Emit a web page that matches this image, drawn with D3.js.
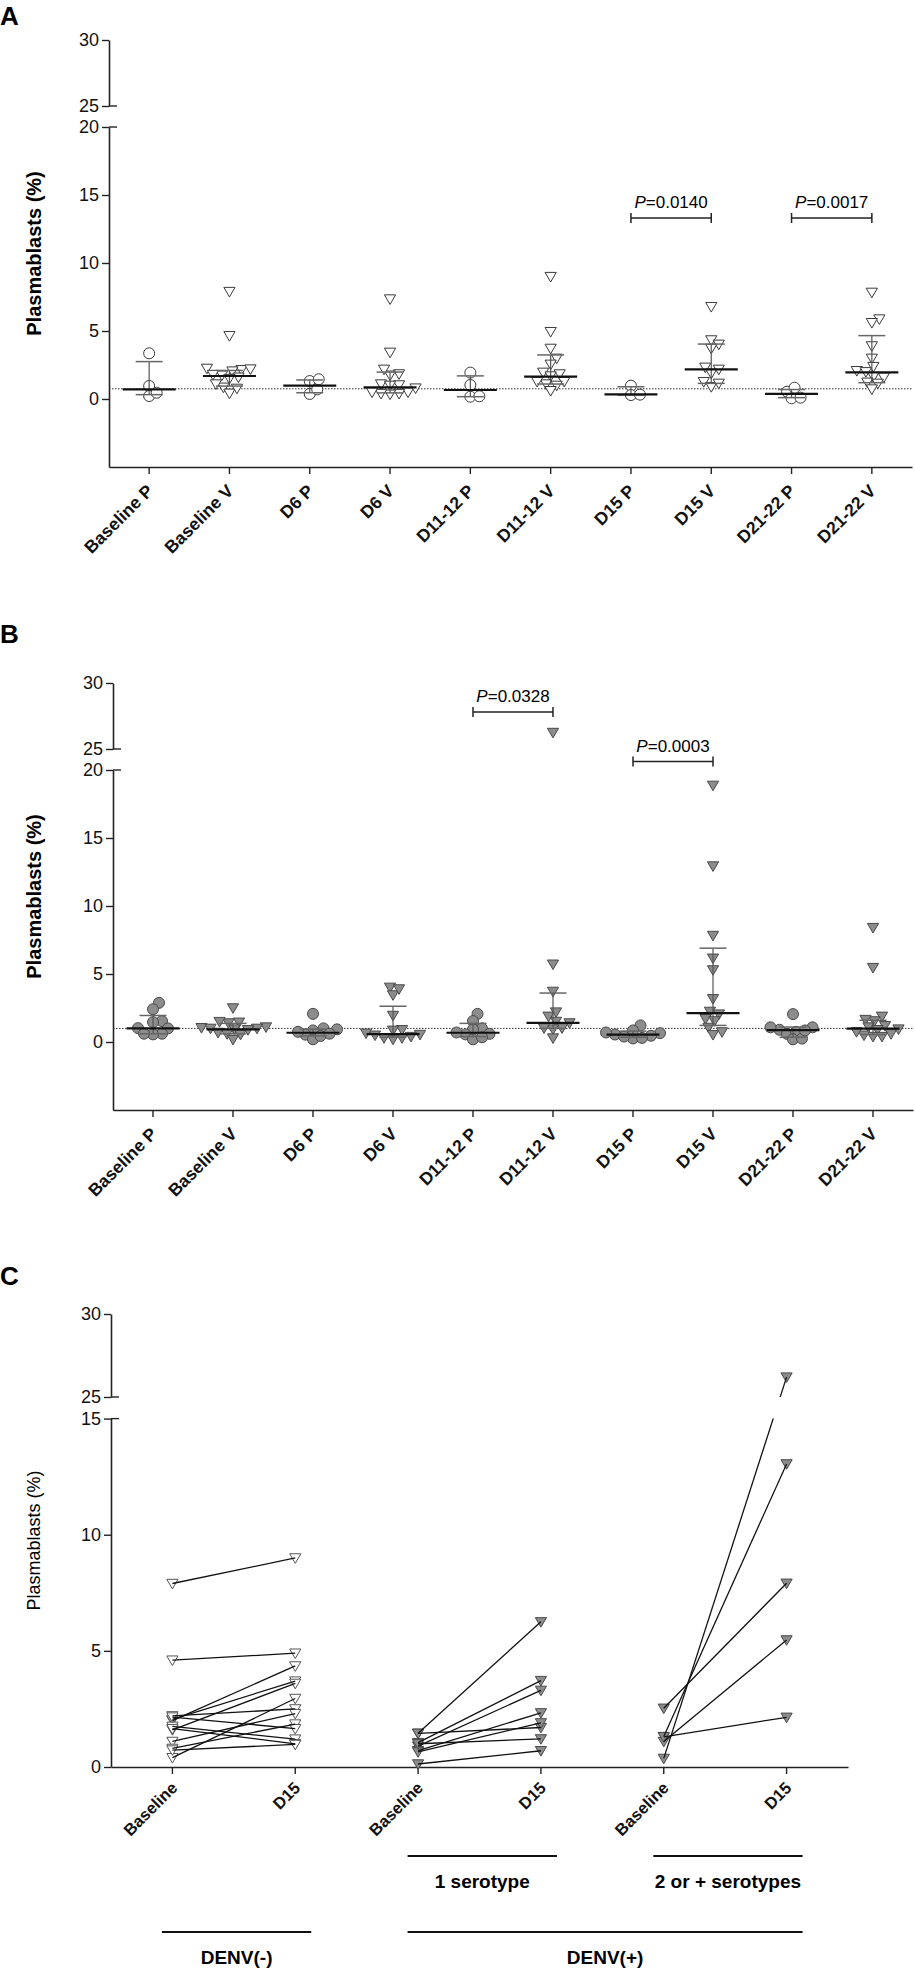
<!DOCTYPE html>
<html>
<head>
<meta charset="utf-8">
<script src="https://cdn.jsdelivr.net/npm/d3@7"></script>
<style>
  body { margin: 0; background: #fff; }
  svg { display: block; font-family: "Liberation Sans", Arial, sans-serif; }
</style>
</head>
<body>
<svg id="fig" width="915" height="1972"></svg>
<script>
// Categories
const groupsAB = ["Baseline P", "Baseline V", "D6 P", "D6 V", "D11-12 P", "D11-12 V", "D15 P", "D15 V", "D21-22 P", "D21-22 V"];
const yTicksLow = [0, 5, 10, 15, 20];
const yTicksHigh = [25, 30];
const yTicksLowC = [0, 5, 10, 15];

// Panel A - plasmablasts (%) per subject
const pointsA = [
  [3.36, 0.96, 0.22, 0.46],
  [7.9, 4.65, 2.15, 2.05, 2.2, 2.25, 1.75, 1.6, 1.8, 1.5, 0.86, 0.42, 0.78, 1.1],
  [1.32, 0.37, 0.71, 1.45],
  [7.35, 3.43, 1.84, 1.75, 2.18, 1.03, 1.1, 1.0, 0.5, 0.4, 0.35, 0.4, 0.5, 0.8],
  [1.03, 1.94, 0.17, 0.2],
  [9.0, 4.95, 3.72, 2.99, 2.55, 1.84, 1.96, 1.69, 1.28, 1.1, 1.0, 1.28, 0.61],
  [0.98, 0.29, 0.32],
  [6.79, 4.34, 4.02, 3.72, 2.33, 2.18, 1.89, 1.27, 0.9, 1.15],
  [0.54, 0.05, 0.1, 0.83],
  [7.84, 5.88, 5.61, 3.9, 2.99, 2.38, 2.08, 2.0, 1.64, 1.6, 1.23, 1.15, 0.73]
];
const medianA = [0.71, 1.69, 0.98, 0.86, 0.66, 1.64, 0.34, 2.18, 0.37, 1.96];
const q1A = [0.32, 0.95, 0.46, 0.45, 0.17, 1.1, 0.29, 1.15, 0.1, 1.2];
const q3A = [2.75, 2.1, 1.4, 1.98, 1.7, 3.24, 0.9, 4.04, 0.7, 4.66];
const refLineA = 0.75;
const bracketsA = [
  { from: "D15 P", to: "D15 V", level: 13.3, p: "0.0140" },
  { from: "D21-22 P", to: "D21-22 V", level: 13.3, p: "0.0017" }
];

// Panel B
const pointsB = [
  [2.88, 2.41, 1.54, 1.46, 1.02, 1.0, 0.61, 0.56, 0.61],
  [2.5, 1.45, 1.4, 1.5, 1.05, 1.0, 1.1, 1.0, 0.95, 0.6, 0.55, 0.7, 0.18, 0.9],
  [2.07, 1.0, 0.85, 0.93, 0.54, 0.2, 0.44, 0.61, 0.75],
  [4.02, 3.46, 3.9, 1.95, 0.9, 0.86, 0.5, 0.3, 0.2, 0.3, 0.55, 0.65, 0.4],
  [2.07, 1.54, 1.0, 0.93, 0.56, 0.6, 0.2, 0.35, 0.7],
  [26.25, 5.72, 3.72, 2.2, 1.89, 1.51, 1.4, 1.03, 0.95, 1.03, 0.29],
  [1.22, 0.65, 0.46, 0.26, 0.3, 0.55, 0.85, 0.7, 0.4],
  [18.87, 12.94, 7.83, 6.16, 5.3, 3.18, 2.05, 2.25, 1.71, 1.55, 1.07, 0.54, 0.74],
  [2.05, 1.08, 0.9, 1.08, 0.6, 0.75, 0.2, 0.25, 0.85],
  [8.41, 5.47, 1.89, 1.55, 1.65, 1.2, 1.1, 0.9, 0.6, 0.4, 0.4, 0.5, 0.75, 0.95]
];
const medianB = [1.0, 0.93, 0.68, 0.58, 0.68, 1.4, 0.54, 2.13, 0.88, 0.98];
const q1B = [0.6, 0.6, 0.45, 0.35, 0.4, 1.0, 0.35, 1.22, 0.35, 0.55];
const q3B = [1.95, 1.37, 0.95, 2.63, 1.37, 3.6, 0.8, 6.9, 1.1, 1.6];
const refLineB = 1.0;
const bracketsB = [
  { from: "D11-12 P", to: "D11-12 V", level: 27.8, p: "0.0328" },
  { from: "D15 P", to: "D15 V", level: 22, p: "0.0003" }
];

// Panel C - paired Baseline / D15
const pairLabelsC = ["Baseline", "D15", "Baseline", "D15", "Baseline", "D15"];
const denvNegBase = [7.9, 4.6, 2.0, 2.05, 1.6, 0.4, 2.2, 1.1, 0.8, 1.75, 1.65, 0.73, 2.15];
const denvNegD15 = [9.0, 4.9, 4.35, 3.7, 3.6, 2.95, 2.5, 2.3, 1.85, 1.2, 1.0, 0.97, 1.65];
const oneSeroBase = [1.45, 1.45, 1.05, 0.9, 0.7, 0.65, 1.0, 0.13];
const oneSeroD15 = [6.25, 1.7, 3.72, 3.3, 2.33, 1.9, 1.21, 0.7];
const twoSeroBase = [2.53, 1.31, 1.1, 1.3, 0.37];
const twoSeroD15 = [7.91, 13.05, 5.47, 2.14, 26.2];

const svg = d3.select("#fig");

// down-pointing triangle
const triDown = {
  draw(ctx) {
    ctx.moveTo(-5.6, -4.2);
    ctx.lineTo(5.6, -4.2);
    ctx.lineTo(0, 5.4);
    ctx.closePath();
  }
};
const triPath = d3.symbol().type(triDown)();
const circlePath = d3.symbol().type(d3.symbolCircle).size(Math.PI * 5.5 * 5.5)();

// Broken y scale: low segment, gap, high segment
function brokenScale(low, high) {
  const f = (v) => {
    const l1 = low.domain()[1];
    const h0 = high.domain()[0];
    if (v <= l1) return low(v);
    if (v >= h0) return high(v);
    const t = (v - l1) / (h0 - l1);
    return low.range()[1] + t * (high.range()[0] - low.range()[1]);
  };
  f.low = low;
  f.high = high;
  return f;
}

function makeY(top, upperH, lowerTop, bottom, lowDomain, highDomain) {
  const low = d3.scaleLinear().domain(lowDomain).range([top + bottom, top + lowerTop]);
  const high = d3.scaleLinear().domain(highDomain).range([top + upperH, top]);
  return brokenScale(low, high);
}

// Horizontal scatter so markers do not pile up
function swarm(values, y) {
  const placed = [];
  const offs = new Array(values.length);
  const order = values.map((v, i) => i).sort((a, b) => values[a] - values[b]);
  order.forEach((i) => {
    const py = y(values[i]);
    for (let k = 0; k < 80; k++) {
      const dx = k === 0 ? 0 : (k % 2 ? 1 : -1) * Math.ceil(k / 2) * 1.5;
      const ok = placed.every((p) => Math.hypot(p.x - dx, p.y - py) >= 8);
      if (ok) {
        offs[i] = dx;
        placed.push({ x: dx, y: py });
        break;
      }
    }
  });
  return offs;
}

function styleAxis(sel, size) {
  sel.selectAll(".domain").attr("stroke", "#222").attr("stroke-width", 1.6);
  sel.selectAll(".tick line").attr("stroke", "#222").attr("stroke-width", 1.4);
  sel.selectAll(".tick text").style("font-size", size).attr("fill", "#111");
}

function drawYAxis(g, y, left, lowTicks, breakLow) {
  const up = g.append("g").attr("transform", `translate(${left},0)`)
    .call(d3.axisLeft(y.high).tickValues(yTicksHigh).tickFormat(d3.format("d"))
      .tickSize(7).tickPadding(3).tickSizeOuter(0));
  const lo = g.append("g").attr("transform", `translate(${left},0)`)
    .call(d3.axisLeft(y.low).tickValues(lowTicks).tickFormat(d3.format("d"))
      .tickSize(7).tickPadding(3).tickSizeOuter(0));
  styleAxis(up, "18px");
  styleAxis(lo, "18px");
  // break marks crossing the axis
  g.selectAll(".brk").data([breakLow, 25]).join("line")
    .attr("x1", left).attr("x2", left + 8)
    .attr("y1", (d) => y(d)).attr("y2", (d) => y(d))
    .attr("stroke", "#222").attr("stroke-width", 1.4);
}

function drawDotPanel(opt) {
  const g = svg.append("g");
  const y = makeY(opt.top, 66, 87, 427, [-5, 20], [25, 30]);
  const x = d3.scaleBand().domain(groupsAB).range([opt.left, opt.right]);
  const cx = (c) => x(c) + x.bandwidth() / 2;
  const axisY = y(-5);

  drawYAxis(g, y, opt.left, yTicksLow, 20);

  const xa = g.append("g").attr("transform", `translate(0,${axisY})`)
    .call(d3.axisBottom(x).tickSize(7).tickSizeOuter(0));
  styleAxis(xa, "17.5px");
  xa.selectAll(".tick text")
    .attr("x", 0).attr("y", 0).attr("dy", 0)
    .attr("text-anchor", "end")
    .attr("font-weight", "bold")
    .attr("transform", "translate(5,25) rotate(-45)");

  // reference line
  g.append("line")
    .attr("x1", opt.left).attr("x2", opt.right)
    .attr("y1", y(opt.ref)).attr("y2", y(opt.ref))
    .attr("stroke", "#333").attr("stroke-width", 1)
    .attr("stroke-dasharray", "1.5,1.5");

  // points
  groupsAB.forEach((c, i) => {
    const vals = opt.points[i];
    const offs = swarm(vals, y);
    const isTri = i % 2 === 1;
    g.append("g").selectAll("path").data(vals).join("path")
      .attr("d", isTri ? triPath : circlePath)
      .attr("transform", (d, j) => `translate(${cx(c) + offs[j]},${y(d)})`)
      .attr("fill", opt.filled ? "#8c8c8c" : "#fff")
      .attr("stroke", opt.filled ? "#4a4a4a" : "#3a3a3a")
      .attr("stroke-width", 1);
  });

  // median with interquartile range
  groupsAB.forEach((c, i) => {
    const xc = cx(c);
    g.append("line")
      .attr("x1", xc).attr("x2", xc)
      .attr("y1", y(opt.q1[i])).attr("y2", y(opt.q3[i]))
      .attr("stroke", "#555").attr("stroke-width", 1.2);
    [opt.q1[i], opt.q3[i]].forEach((q) => {
      g.append("line")
        .attr("x1", xc - 13.5).attr("x2", xc + 13.5)
        .attr("y1", y(q)).attr("y2", y(q))
        .attr("stroke", "#666").attr("stroke-width", 1.5);
    });
    g.append("line")
      .attr("x1", xc - 26.5).attr("x2", xc + 26.5)
      .attr("y1", y(opt.median[i])).attr("y2", y(opt.median[i]))
      .attr("stroke", "#111").attr("stroke-width", 2.2);
  });

  // significance brackets
  opt.brackets.forEach((b) => {
    const x1 = cx(b.from), x2 = cx(b.to), yb = y(b.level);
    g.append("path")
      .attr("d", `M${x1},${yb - 5}V${yb + 5}M${x1},${yb}H${x2}M${x2},${yb - 5}V${yb + 5}`)
      .attr("fill", "none").attr("stroke", "#222").attr("stroke-width", 1.5);
    const t = g.append("text")
      .attr("x", (x1 + x2) / 2).attr("y", yb - 10)
      .attr("text-anchor", "middle")
      .style("font-size", "17px");
    t.append("tspan").attr("font-style", "italic").text("P");
    t.append("tspan").text("=" + b.p);
  });

  // panel letter and title
  svg.append("text").attr("x", 0).attr("y", opt.top - 15 - (opt.letter === "A" ? 0 : 25))
    .attr("font-weight", "bold").style("font-size", "26px").text(opt.letter);
  svg.append("text")
    .attr("transform", `translate(41,${(opt.top + axisY) / 2}) rotate(-90)`)
    .attr("text-anchor", "middle")
    .attr("font-weight", "bold").style("font-size", "20px")
    .text("Plasmablasts (%)");
}

drawDotPanel({
  letter: "A", top: 40, left: 109, right: 912, filled: false,
  points: pointsA, median: medianA, q1: q1A, q3: q3A, ref: refLineA, brackets: bracketsA
});
drawDotPanel({
  letter: "B", top: 683, left: 113, right: 913, filled: true,
  points: pointsB, median: medianB, q1: q1B, q3: q3B, ref: refLineB, brackets: bracketsB
});

// Panel C
function drawPairPanel() {
  const top = 1314, left = 111, right = 848;
  const g = svg.append("g");
  const y = makeY(top, 83, 104.6, 453, [0, 15], [25, 30]);
  const x = d3.scaleBand().domain(d3.range(pairLabelsC.length)).range([left, right]);
  const cx = (i) => x(i) + x.bandwidth() / 2;
  const axisY = y(0);

  drawYAxis(g, y, left, yTicksLowC, 15);

  const xa = g.append("g").attr("transform", `translate(0,${axisY})`)
    .call(d3.axisBottom(x).tickSize(7).tickSizeOuter(0).tickFormat((i) => pairLabelsC[i]));
  styleAxis(xa, "16.5px");
  xa.selectAll(".tick text")
    .attr("x", 0).attr("y", 0).attr("dy", 0)
    .attr("text-anchor", "end")
    .attr("font-weight", "bold")
    .attr("transform", "translate(6,22) rotate(-45)");

  const sets = [
    { base: denvNegBase, d15: denvNegD15, at: 0, filled: false },
    { base: oneSeroBase, d15: oneSeroD15, at: 2, filled: true },
    { base: twoSeroBase, d15: twoSeroD15, at: 4, filled: true }
  ];

  // clip lines out of the axis break
  const clip = svg.append("defs").append("clipPath").attr("id", "clipC");
  clip.append("rect").attr("x", left).attr("y", top - 20)
    .attr("width", right - left).attr("height", y(25) - top + 20);
  clip.append("rect").attr("x", left).attr("y", y(15))
    .attr("width", right - left).attr("height", axisY - y(15) + 10);

  sets.forEach((s) => {
    const x0 = cx(s.at), x1 = cx(s.at + 1);
    const style = (sel) => sel
      .attr("d", triPath)
      .attr("fill", s.filled ? "#8c8c8c" : "#fff")
      .attr("stroke", s.filled ? "#4a4a4a" : "#555")
      .attr("stroke-width", 1);
    g.append("g").selectAll("path").data(s.base).join("path").call(style)
      .attr("transform", (d) => `translate(${x0},${y(d)})`);
    g.append("g").selectAll("path").data(s.d15).join("path").call(style)
      .attr("transform", (d) => `translate(${x1},${y(d)})`);
    g.append("g").attr("clip-path", "url(#clipC)")
      .selectAll("line").data(s.base).join("line")
      .attr("x1", x0).attr("y1", (d) => y(d))
      .attr("x2", x1).attr("y2", (d, j) => y(s.d15[j]))
      .attr("stroke", "#111").attr("stroke-width", 1.3);
  });

  // group annotations
  const groupsC = [
    { label: "1 serotype", from: 2, to: 3, dy: 89 },
    { label: "2 or + serotypes", from: 4, to: 5, dy: 89 },
    { label: "DENV(-)", from: 0, to: 1, dy: 165 },
    { label: "DENV(+)", from: 2, to: 5, dy: 165 }
  ];
  groupsC.forEach((d) => {
    const xa0 = cx(d.from) - 10.5, xa1 = cx(d.to) + 16;
    g.append("line")
      .attr("x1", xa0).attr("x2", xa1)
      .attr("y1", axisY + d.dy).attr("y2", axisY + d.dy)
      .attr("stroke", "#111").attr("stroke-width", 2);
    g.append("text")
      .attr("x", (xa0 + xa1) / 2).attr("y", axisY + d.dy + 32)
      .attr("text-anchor", "middle")
      .attr("font-weight", "bold").style("font-size", "19px")
      .text(d.label);
  });

  svg.append("text").attr("x", 0).attr("y", 1285)
    .attr("font-weight", "bold").style("font-size", "26px").text("C");
  svg.append("text")
    .attr("transform", `translate(40,${(top + axisY) / 2}) rotate(-90)`)
    .attr("text-anchor", "middle")
    .style("font-size", "18px")
    .text("Plasmablasts (%)");
}

drawPairPanel();
</script>
</body>
</html>
